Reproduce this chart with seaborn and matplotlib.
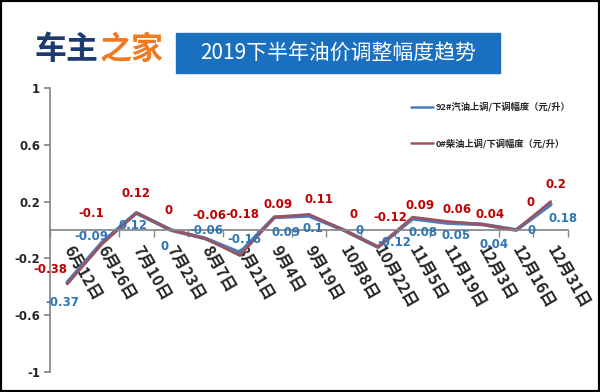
import matplotlib
matplotlib.use("Agg")
import matplotlib.pyplot as plt
from matplotlib.patches import Rectangle
from matplotlib.ticker import FixedLocator
import pandas as pd
import seaborn as sns


# ── 数据 ──────────────────────────────────────────────────────────────────────
dates = ["6月12日", "6月26日", "7月10日", "7月23日", "8月7日", "8月21日", "9月4日",
         "9月19日", "10月8日", "10月22日", "11月5日", "11月19日", "12月3日",
         "12月16日", "12月31日"]
gasoline_92 = [-0.37, -0.09, 0.12, 0, -0.06, -0.16, 0.09, 0.1, 0, -0.12,
               0.08, 0.05, 0.04, 0, 0.18]
diesel_0 = [-0.38, -0.1, 0.12, 0, -0.06, -0.18, 0.09, 0.11, 0, -0.12,
            0.09, 0.06, 0.04, 0, 0.2]
yticks = [-1, -0.6, -0.2, 0.2, 0.6, 1]
ytick_labels = ["-1", "-0.6", "-0.2", "0.2", "0.6", "1"]
label_92 = "92#汽油上调/下调幅度（元/升）"
label_0 = "0#柴油上调/下调幅度（元/升）"

# 标签偏移（像素，按原图估计）
red_off = [(-17, 14), (-11, 31), (0, 19), (-2, 20), (4, 23), (2, 41), (4, 13),
           (10, 15), (10, 16), (12, 30), (7, 12), (10, 12), (8, 10), (14, 27), (5, 17)]
blue_off = [(-5, -20), (-10, 6), (-3, -13), (-6, -17), (1, 8), (4, 13), (12, -15),
            (4, -13), (16, -1), (16, 5), (10, -14), (9, -13), (12, -20), (15, -1), (12, -14)]

BLUE = "#4a7ebb"
RED = "#9c5360"
RED_TXT = "#c00000"
BLUE_TXT = "#2e75b6"
GRAY = "#868686"

df = pd.DataFrame({"x": range(len(dates)), "g92": gasoline_92, "d0": diesel_0})

sns.set_theme(style="white")
plt.rcParams["font.family"] = ["Noto Sans CJK SC", "DejaVu Sans"]

fig = plt.figure(figsize=(6, 3.92), dpi=100)
ax = fig.add_axes([50 / 600, 20 / 392, 518 / 600, 284 / 392])

sns.lineplot(data=df, x="x", y="g92", color=BLUE, lw=2.8, label=label_92, ax=ax)
sns.lineplot(data=df, x="x", y="d0", color=RED, lw=2.0, label=label_0, ax=ax)

# 数据标签
for i in range(len(dates)):
    ax.annotate(f"{diesel_0[i]:g}", (i, diesel_0[i]), xytext=red_off[i],
                textcoords="offset pixels", ha="center", va="center",
                color=RED_TXT, fontsize=8.5, fontweight="bold", family="DejaVu Sans")
    ax.annotate(f"{gasoline_92[i]:g}", (i, gasoline_92[i]), xytext=blue_off[i],
                textcoords="offset pixels", ha="center", va="center",
                color=BLUE_TXT, fontsize=8.5, fontweight="bold", family="DejaVu Sans")

# ── 坐标轴 ────────────────────────────────────────────────────────────────────
ax.set_xlim(-0.5, len(dates) - 0.5)
ax.set_ylim(-1, 1)
ax.set_xlabel("")
ax.set_ylabel("")
for s in ["top", "right"]:
    ax.spines[s].set_visible(False)
ax.spines["left"].set_color(GRAY)
ax.spines["bottom"].set_color(GRAY)
ax.spines["bottom"].set_position(("data", 0))

ax.set_yticks(yticks)
ax.set_yticklabels(ytick_labels, fontsize=8.5, fontweight="bold", family="DejaVu Sans")
ax.tick_params(axis="y", left=True, direction="out", length=4, color=GRAY, pad=3)

ax.set_xticks(range(len(dates)))
ax.set_xticklabels(dates, rotation=-60, ha="left", va="center",
                   rotation_mode="anchor", fontsize=11.5, fontweight="bold")
ax.xaxis.set_minor_locator(FixedLocator([i + 0.5 for i in range(-1, len(dates))]))
ax.tick_params(axis="x", which="major", length=0, pad=12)
ax.tick_params(axis="x", which="minor", bottom=True, direction="out", length=5, color=GRAY)

leg = ax.legend(loc="upper left", bbox_to_anchor=(0.68, 0.98), frameon=False,
                labelspacing=2.9, handlelength=2.4, handletextpad=0.3,
                prop={"size": 6.7, "weight": "bold"})
for h in leg.get_lines():
    h.set_linewidth(1.8)

# ── 标题 ──────────────────────────────────────────────────────────────────────
fig.text(35 / 600, 1 - 50 / 392, "车主", color="#1f3a6e", fontsize=23,
         fontweight="heavy", va="center", ha="left")
fig.text(100 / 600, 1 - 50 / 392, "之家", color="#ef7a22", fontsize=23,
         fontweight="heavy", va="center", ha="left")
fig.patches.append(Rectangle((176 / 600, 1 - 73 / 392), 324 / 600, 40 / 392,
                             transform=fig.transFigure, color="#1a6fbf", zorder=0))
fig.text(338 / 600, 1 - 53 / 392, "2019下半年油价调整幅度趋势", color="white",
         fontsize=15, va="center", ha="center")

fig.patches.append(Rectangle((0, 0), 1, 1, transform=fig.transFigure, fill=False,
                             lw=3, ec="black"))

fig.savefig("out.png", dpi=100)
